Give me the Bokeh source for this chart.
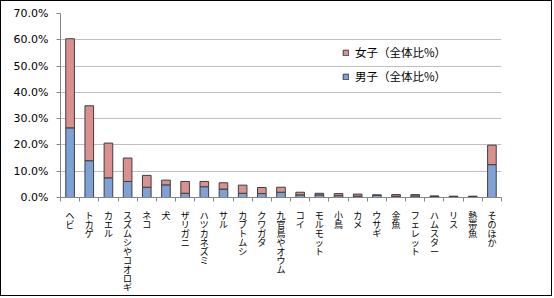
from bokeh.plotting import figure
from bokeh.models import (Range1d, LinearAxis, FixedTicker,
                          PrintfTickFormatter, Legend, LegendItem, ColumnDataSource)
from bokeh.embed import file_html
from bokeh.resources import INLINE

categories = ["ヘビ", "トカゲ", "カエル", "スズムシやコオロギ", "ネコ", "犬", "ザリガニ",
              "ハツカネズミ", "サル", "カブトムシ", "クワガタ", "九官鳥やオウム", "コイ",
              "モルモット", "小鳥", "カメ", "ウサギ", "金魚", "フェレット", "ハムスター",
              "リス", "熱帯魚", "そのほか"]
male = [26.5, 14.0, 7.5, 6.1, 3.9, 4.8, 1.6, 4.1, 3.2, 1.6, 1.5, 2.0, 1.0,
        1.0, 0.7, 0.5, 0.8, 0.5, 0.6, 0.4, 0.3, 0.3, 12.5]
female = [33.9, 20.9, 13.2, 8.9, 4.5, 1.8, 4.5, 2.0, 2.4, 3.1, 2.3, 1.9, 1.0,
          0.6, 0.8, 0.8, 0.2, 0.6, 0.5, 0.2, 0.2, 0.2, 7.4]
series_names = ["男子（全体比%）", "女子（全体比%）"]
y_ticks = [0, 10, 20, 30, 40, 50, 60, 70]

n = len(categories)
centers = [i + 0.5 for i in range(n)]
src = ColumnDataSource(dict(x=centers, male=male, female=female))

p = figure(width=552, height=296, output_backend="svg", toolbar_location=None,
           x_range=Range1d(0, n), y_range=Range1d(0, 70),
           x_axis_location=None, y_axis_location=None,
           min_border_left=59, min_border_right=52, min_border_top=12, min_border_bottom=100)
p.styles = {"border": "1px solid #000000"}
p.outline_line_color = None
p.xgrid.grid_line_color = None
p.ygrid.grid_line_color = "#BFBFBF"
p.ygrid.ticker = FixedTicker(ticks=y_ticks)

rs = p.vbar_stack(["male", "female"], x="x", width=0.45, source=src,
                  fill_color=["#7EA2D6", "#D9908E"], line_color="#3F3F3F", line_width=1)

yaxis = LinearAxis(ticker=FixedTicker(ticks=y_ticks), formatter=PrintfTickFormatter(format="%.1f%%"),
                   axis_line_color="#868686", major_tick_line_color="#868686",
                   minor_tick_line_color=None, major_tick_out=4, major_tick_in=0,
                   major_label_standoff=8, major_label_text_font="DejaVu Sans",
                   major_label_text_font_size="11px", major_label_text_color="#000000")
p.add_layout(yaxis, "left")

bounds = list(range(n + 1))
tick_axis = LinearAxis(ticker=FixedTicker(ticks=bounds),
                       major_label_overrides={b: "" for b in bounds},
                       axis_line_color="#868686", major_tick_line_color="#868686",
                       minor_tick_line_color=None, major_tick_out=4, major_tick_in=0,
                       major_label_standoff=0, major_label_text_font_size="1px")
cat_axis = LinearAxis(ticker=FixedTicker(ticks=centers),
                      axis_line_color=None, major_tick_line_color=None,
                      minor_tick_line_color=None,
                      major_label_overrides={x: "\n".join(list(c)) for x, c in zip(centers, categories)},
                      major_label_standoff=1, major_label_text_font="Noto Sans CJK JP",
                      major_label_text_font_size="9px", major_label_text_line_height=0.7,
                      major_label_text_color="#000000")
p.add_layout(tick_axis, "below")
p.add_layout(cat_axis, "below")

legend = Legend(items=[LegendItem(label=series_names[1], renderers=[rs[1]]),
                       LegendItem(label=series_names[0], renderers=[rs[0]])],
                location=(282, 111), padding=0, margin=0, spacing=4,
                glyph_width=7, glyph_height=7, label_height=20, label_standoff=6,
                background_fill_alpha=0, border_line_color=None,
                label_text_font="Noto Sans CJK JP", label_text_font_size="11.5px",
                label_text_color="#000000")
p.add_layout(legend, "center")

open("out.html", "w").write(file_html(p, INLINE))
